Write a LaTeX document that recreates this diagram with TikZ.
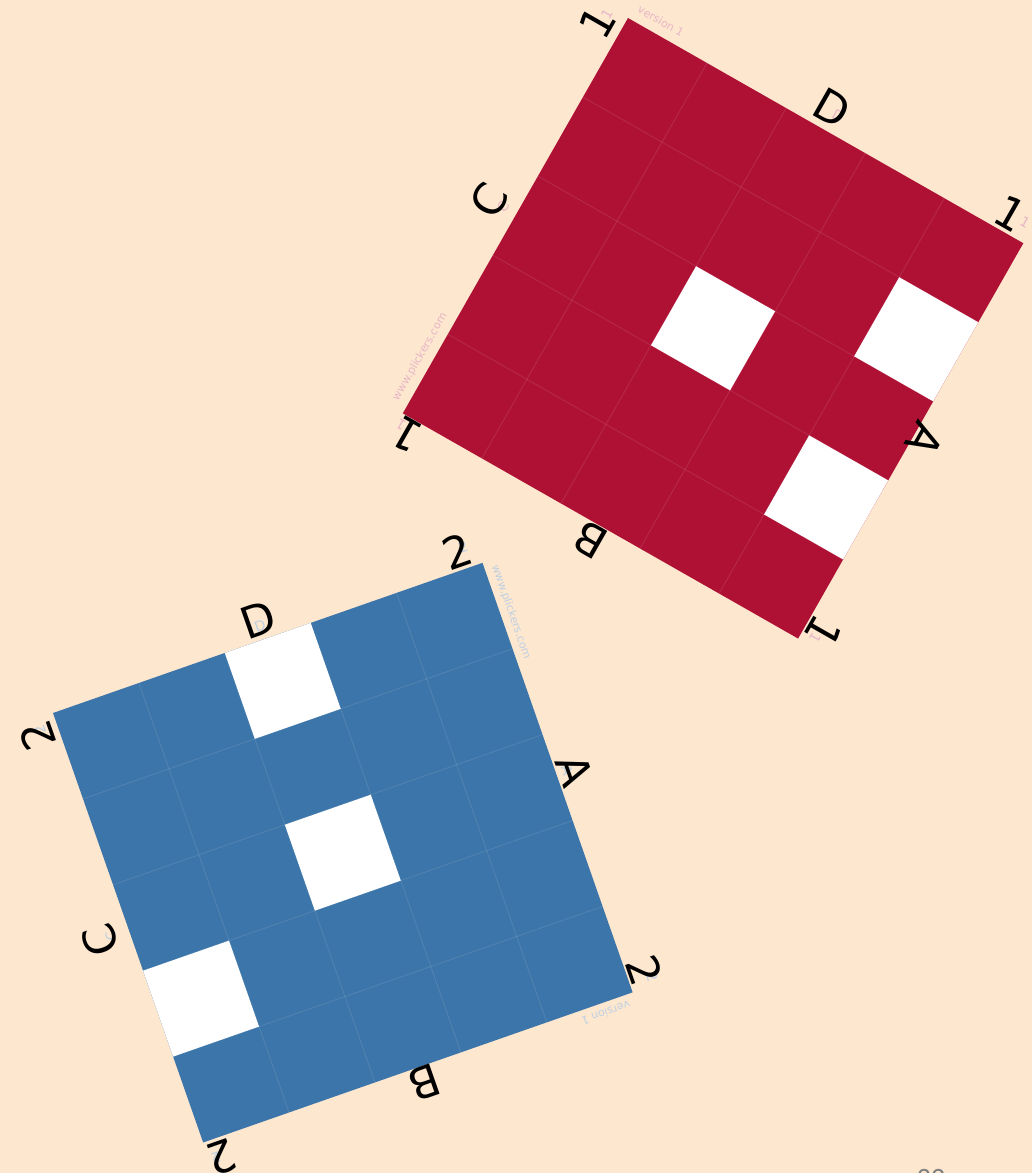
\documentclass[tikz,border=0pt]{standalone}
\usepackage{fontspec}
\newfontfamily\cardfont{DejaVu Sans}
\newfontfamily\pagefont{Carlito}
\definecolor{Cpage}{RGB}{253,231,207}
\definecolor{Cred}{RGB}{175,17,53}
\definecolor{Cblue}{RGB}{60,117,169}
\definecolor{Cpink}{RGB}{232,182,198}
\definecolor{Csky}{RGB}{190,208,226}
\tikzset{
  cardlbl/.style={font=\cardfont\fontsize{22}{22}\selectfont, inner sep=0pt, text=black},
  printlbl/.style={font=\cardfont\fontsize{7}{7}\selectfont, inner sep=0pt, text=#1},
  brand/.style={font=\cardfont\fontsize{5.5}{5.5}\selectfont, inner sep=0pt, text=#1},
  seam/.style={draw=white, draw opacity=0.09, line width=0.5pt},
  %% 5x5 card, one cell = 91px, local y runs down the card
  pics/card/.style={code={%
    \fill[#1] (0,0) -- (455,0) -- (455,455) -- (0,455) -- cycle;
    \foreach \k in {1,...,4}{
      \draw[seam] (\k*91,0) -- (\k*91,455);
      \draw[seam] (0,\k*91) -- (455,\k*91);
    }
  }},
}
\newcommand{\hole}[2]{\fill[white] (#1*91,#2*91) -- ++(91,0) -- ++(0,91) -- ++(-91,0) -- cycle;}

\begin{document}
\begin{tikzpicture}[x=0.5pt, y=-0.5pt]

\useasboundingbox[fill=Cpage] (0,0) rectangle (1032,1173);

%%==========================================================================
%% RED CARD (card 1)
%%==========================================================================
\begin{scope}[shift={(628,18)}, rotate=-29.67]
  \pic[transform shape] {card=Cred};
  \hole{2}{2} \hole{4}{1} \hole{4}{3}
\end{scope}

%% printed marks
\node[brand=Cpink, rotate=-29.7] (rver) at (661,21) {version 1};
\node[brand=Cpink, rotate=60.3]  (rweb) at (420,357) {www.plickers.com};
\node[printlbl=Cpink, rotate=60.3]   (rp1T) at (607,14)  {1};
\node[printlbl=Cpink, rotate=-29.7]  (rpD)  at (838,116) {D};
\node[printlbl=Cpink, rotate=-29.7]  (rp1R) at (1025,222) {1};
\node[printlbl=Cpink, rotate=-119.7] (rp1B) at (815,638) {1};
\node[printlbl=Cpink, rotate=150.3]  (rp1L) at (401,425) {1};
\node[printlbl=Cpink, rotate=60.3]   (rpC)  at (503,207) {C};

%% hand labels
\node[cardlbl, rotate=60.3]   (r1T) at (597,22)  {1};
\node[cardlbl, rotate=-29.7]  (rD)  at (832,108) {D};
\node[cardlbl, rotate=-29.7]  (r1R) at (1011,213) {1};
\node[cardlbl, rotate=-119.7] (rA)  at (925,440) {A};
\node[cardlbl, rotate=-119.7] (r1B) at (823,632) {1};
\node[cardlbl, rotate=150.3]  (rB)  at (590,540) {B};
\node[cardlbl, rotate=150.3]  (r1L) at (406,434) {1};
\node[cardlbl, rotate=60.3]   (rC)  at (489,200) {C};

%%==========================================================================
%% BLUE CARD (card 2)
%%==========================================================================
\begin{scope}[shift={(53,713)}, rotate=19.27]
  \pic[transform shape] {card=Cblue};
  \hole{2}{0} \hole{2}{2} \hole{0}{3}
\end{scope}

%% printed marks
\node[brand=Csky, rotate=-70.7] (bweb) at (511,612) {www.plickers.com};
\node[brand=Csky, rotate=199.3] (bver) at (606,1013) {version 1};
\node[printlbl=Csky, rotate=19.3]  (bp2TR) at (463,547) {2};
\node[printlbl=Csky, rotate=19.3]  (bpD)   at (260,626) {D};
\node[printlbl=Csky, rotate=-70.7] (bpA)   at (567,770) {A};
\node[printlbl=Csky, rotate=-70.7] (bp2BR) at (652,977) {2};
\node[printlbl=Csky, rotate=199.3] (bp2BL) at (216,1158) {2};
\node[printlbl=Csky, rotate=109.3] (bp2TL) at (40,730) {2};
\node[printlbl=Csky, rotate=109.3] (bpC)   at (111,936) {C};

%% hand labels
\node[cardlbl, rotate=19.3]  (b2TR) at (457,551)  {2};
\node[cardlbl, rotate=19.3]  (bD)   at (258,620)  {D};
\node[cardlbl, rotate=-70.7] (bA)   at (575,770)  {A};
\node[cardlbl, rotate=-70.7] (b2BR) at (645,970)  {2};
\node[cardlbl, rotate=199.3] (bB)   at (425,1083) {B};
\node[cardlbl, rotate=199.3] (b2BL) at (222,1158) {2};
\node[cardlbl, rotate=109.3] (bC)   at (100,940)  {C};
\node[cardlbl, rotate=109.3] (b2TL) at (37,736)   {2};

%% slide number (cut by the page edge)
\node[font=\pagefont\fontsize{14}{14}\selectfont, text=black!50, inner sep=0pt]
  (pageno) at (931,1178) {22};

\end{tikzpicture}
\end{document}
